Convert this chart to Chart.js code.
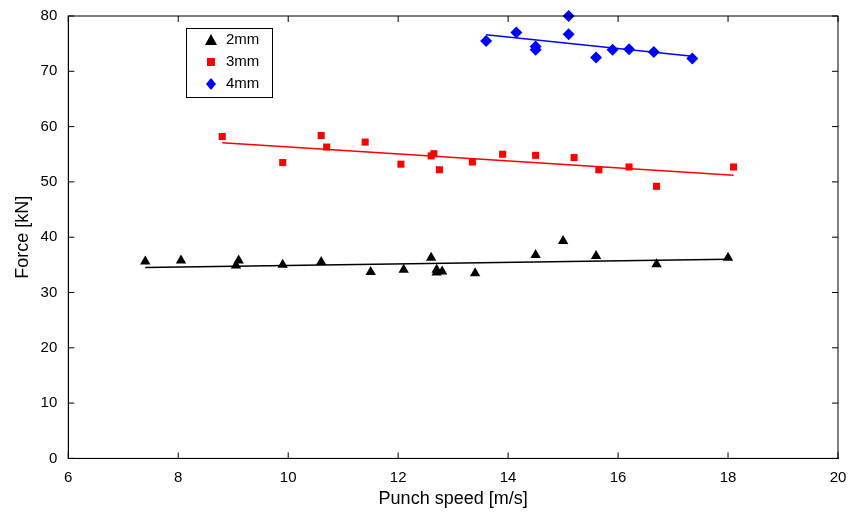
<!DOCTYPE html><html><head><script src="https://cdn.jsdelivr.net/npm/chart.js"></script>
<style>body{margin:0;background:#fff}#w{width:858px;height:512px}</style></head><body><div id="w"><canvas id="c"></canvas></div>
<script>
const labels=['2mm','3mm','4mm'];
const x2=[7.4,8.05,9.05,9.1,9.9,10.6,11.5,12.1,12.6,12.7,12.7,12.8,13.4,14.5,15,15.6,16.7,18];
const y2=[35.6,35.8,34.9,35.8,35,35.5,33.7,34.1,36.3,33.6,34.1,33.8,33.5,36.8,39.3,36.6,35.1,36.3];
const x3=[8.8,9.9,10.6,10.7,11.4,12.05,12.6,12.65,12.75,13.35,13.9,14.5,15.2,15.65,16.2,16.7,18.1];
const y3=[58.2,53.5,58.4,56.3,57.2,53.2,54.7,55.1,52.2,53.6,55,54.8,54.4,52.2,52.7,49.2,52.7];
const x4=[13.6,14.15,14.5,14.5,15.1,15.1,15.6,15.9,16.2,16.65,17.35];
const y4=[75.5,77,73.9,74.5,80,76.7,72.5,73.9,74,73.5,72.3];
const fit2=[[7.4,34.5],[18,36]],fit3=[[8.8,57.1],[18.1,51.2]],fit4=[[13.6,76.6],[17.35,72.7]];
const cols=['#000000','#ff0000','#0000ff'],shapes=['triangle','rect','rectRot'];
const pts=(xs,ys)=>xs.map((x,i)=>({x,y:ys[i]}));
const ln=f=>f.map(p=>({x:p[0],y:p[1]}));
const ds=[];
[[x2,y2,fit2],[x3,y3,fit3],[x4,y4,fit4]].forEach((s,i)=>{
 ds.push({label:labels[i],data:pts(s[0],s[1]),showLine:false,clip:false,pointStyle:shapes[i],pointRadius:i==1?5:6,backgroundColor:cols[i],borderColor:cols[i],borderWidth:0});
 ds.push({label:'fit'+i,data:ln(s[2]),showLine:true,pointRadius:0,borderColor:cols[i],borderWidth:1.5});
});
const legendPlugin={id:'lg',afterDraw(ch){const c=ch.ctx,a=ch.chartArea;c.save();c.strokeStyle='#000';c.lineWidth=1;
 c.strokeRect(a.left,a.top,a.right-a.left,a.bottom-a.top);
 const xs=ch.scales.x,ys=ch.scales.y;c.beginPath();
 for(let v=6;v<=20;v+=2){const p=xs.getPixelForValue(v);c.moveTo(p,a.bottom);c.lineTo(p,a.bottom-6);c.moveTo(p,a.top);c.lineTo(p,a.top+6);}
 for(let v=0;v<=80;v+=10){const p=ys.getPixelForValue(v);c.moveTo(a.left,p);c.lineTo(a.left+6,p);c.moveTo(a.right,p);c.lineTo(a.right-6,p);}
 c.stroke();
 c.fillStyle='#fff';
 c.fillRect(186,28,86,69);c.strokeRect(186.5,28.5,86,69);c.font='15px Arial, Liberation Sans';c.textBaseline='middle';
 labels.forEach((l,i)=>{const y=40+i*22;c.fillStyle=cols[i];c.beginPath();
  if(i==0){c.moveTo(211,y-6);c.lineTo(217,y+5);c.lineTo(205,y+5);}else if(i==1){c.rect(207,y-4,8,8);}else{c.moveTo(211,y-6);c.lineTo(216,y);c.lineTo(211,y+6);c.lineTo(206,y);}
  c.fill();c.fillStyle='#000';c.fillText(l,226,y);});c.restore();}};
new Chart(document.getElementById('c'),{type:'scatter',data:{datasets:ds},plugins:[legendPlugin],
options:{responsive:true,maintainAspectRatio:false,animation:false,layout:{padding:{top:16,right:20,left:8,bottom:2}},
plugins:{legend:{display:false},tooltip:{enabled:false}},
scales:{x:{min:6,max:20,ticks:{stepSize:2,color:'#000',padding:2,font:{size:15,family:'Arial, Liberation Sans'}},grid:{display:false},border:{color:'#000'},
 title:{display:true,text:'Punch speed [m/s]',color:'#000',font:{size:18,family:'Arial, Liberation Sans'},padding:{top:0,bottom:0}}},
 y:{min:0,max:80,ticks:{stepSize:10,color:'#000',font:{size:15,family:'Arial, Liberation Sans'}},grid:{display:false},border:{color:'#000'},
 title:{display:true,text:'Force [kN]',color:'#000',font:{size:18,family:'Arial, Liberation Sans'}}}}}});
</script></body></html>
